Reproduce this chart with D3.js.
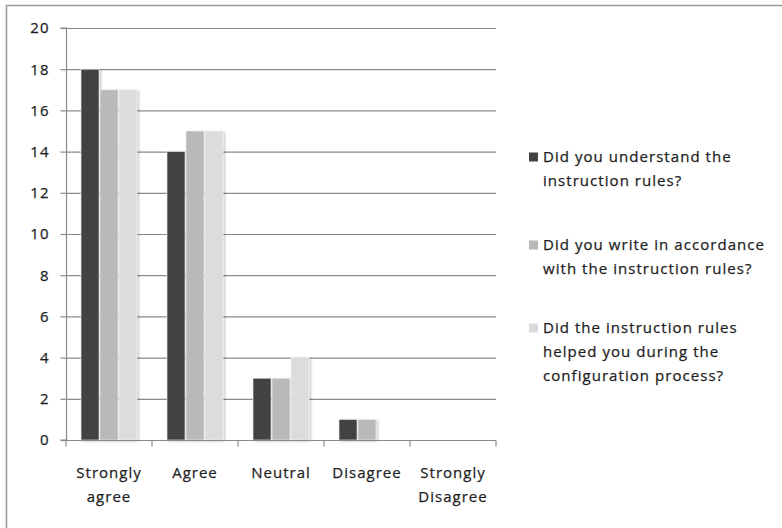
<!DOCTYPE html>
<html><head><meta charset="utf-8">
<script src="https://cdn.jsdelivr.net/npm/d3@7"></script>
<style>body{margin:0;background:#fff}svg{display:block}text{font-family:"Open Sans",sans-serif;fill:#1e1e1e;stroke:#1e1e1e;stroke-width:0.25}</style>
</head><body><svg id="c" width="782" height="528"></svg>
<script>
const categories = ["Strongly agree","Agree","Neutral","Disagree","Strongly Disagree"];
const categoryLines = [["Strongly","agree"],["Agree"],["Neutral"],["Disagree"],["Strongly","Disagree"]];
const seriesNames = [
  ["Did you understand the","instruction rules?"],
  ["Did you write in accordance","with the instruction rules?"],
  ["Did the instruction rules","helped you during the","configuration process?"]
];
const understood = [18,14,3,1,0];
const wroteAccordance = [17,15,3,1,0];
const helped = [17,15,4,0,0];
const yTicks = [0,2,4,6,8,10,12,14,16,18,20];
const colors = ["#434343","#b9b9b9","#dcdcdc"];

const series = [understood, wroteAccordance, helped];
const svg = d3.select("#c");
svg.append("rect").attr("x",6.5).attr("y",5.5).attr("width",800).attr("height",600)
  .attr("fill","none").attr("stroke","#999").attr("stroke-width",1.5);

const defs = svg.append("defs");
const f = defs.append("filter").attr("id","sh").attr("x","-20%").attr("y","-5%").attr("width","150%").attr("height","115%");
f.append("feDropShadow").attr("dx",1.5).attr("dy",1).attr("stdDeviation",1.2).attr("flood-color","#000").attr("flood-opacity",0.25);

const L=66, R=496, T=28, B=440;
const x = d3.scaleBand().domain(categories).range([L,R]).padding(0);
const xs = d3.scaleBand().domain([0,1,2]).range([0,x.bandwidth()]).paddingOuter(0.79).paddingInner(0.05);
const y = d3.scaleLinear().domain([0,20]).range([B,T]);

// gridlines
svg.append("g").selectAll("line").data(yTicks.filter(d=>d>0)).join("line")
  .attr("x1",L).attr("x2",R).attr("y1",d=>y(d)+0.5).attr("y2",d=>y(d)+0.5)
  .attr("stroke","#8a8a8a").attr("stroke-width",1.2);

// bars
const g = svg.append("g");
categories.forEach((c,i)=>{
  series.forEach((s,j)=>{
    if(s[i]<=0) return;
    g.append("rect").attr("x",x(c)+xs(j)).attr("y",y(s[i])).attr("width",xs.bandwidth())
      .attr("height",B-y(s[i])).attr("fill",colors[j]).attr("stroke","#f4f4f4").attr("stroke-width",0.6)
      .attr("filter","url(#sh)");
  });
});

// y axis
const ya = svg.append("g").attr("transform",`translate(${L+0.5},0)`)
  .call(d3.axisLeft(y).tickValues(yTicks).tickSize(6).tickPadding(11).tickFormat(d3.format("d")));
ya.select(".domain").attr("stroke","#8a8a8a").attr("stroke-width",1.2).attr("d",`M-6,${T}H0V${B}H-6`);
ya.selectAll(".tick line").attr("stroke","#8a8a8a").attr("stroke-width",1.2);
ya.selectAll(".tick text").attr("font-size",15).attr("letter-spacing",1).attr("font-family","Open Sans").attr("fill","#1e1e1e");

// x axis
const xa = svg.append("g").attr("transform",`translate(0,${B+0.5})`);
xa.append("line").attr("x1",L).attr("x2",R).attr("stroke","#8a8a8a").attr("stroke-width",1.2);
const bounds = categories.map(c=>x(c)).concat([R]);
xa.selectAll("line.t").data(bounds).join("line").attr("class","t")
  .attr("x1",d=>d).attr("x2",d=>d).attr("y1",0).attr("y2",6).attr("stroke","#8a8a8a").attr("stroke-width",1.2);
categories.forEach((c,i)=>{
  const cx = x(c)+x.bandwidth()/2;
  const t = svg.append("text").attr("x",cx).attr("y",478).attr("text-anchor","middle").attr("font-size",15).attr("letter-spacing",1);
  categoryLines[i].forEach((ln,k)=>t.append("tspan").attr("x",cx).attr("dy",k?24:0).text(ln));
});

// legend
const legY = [162, 250, 333];
seriesNames.forEach((lines,j)=>{
  svg.append("rect").attr("x",529).attr("y",legY[j]-9.5).attr("width",9).attr("height",9).attr("fill",colors[j]);
  const t = svg.append("text").attr("x",543).attr("y",legY[j]).attr("font-size",15).attr("letter-spacing",1.05);
  lines.forEach((ln,k)=>t.append("tspan").attr("x",543).attr("dy",k?24:0).text(ln));
});
</script></body></html>
